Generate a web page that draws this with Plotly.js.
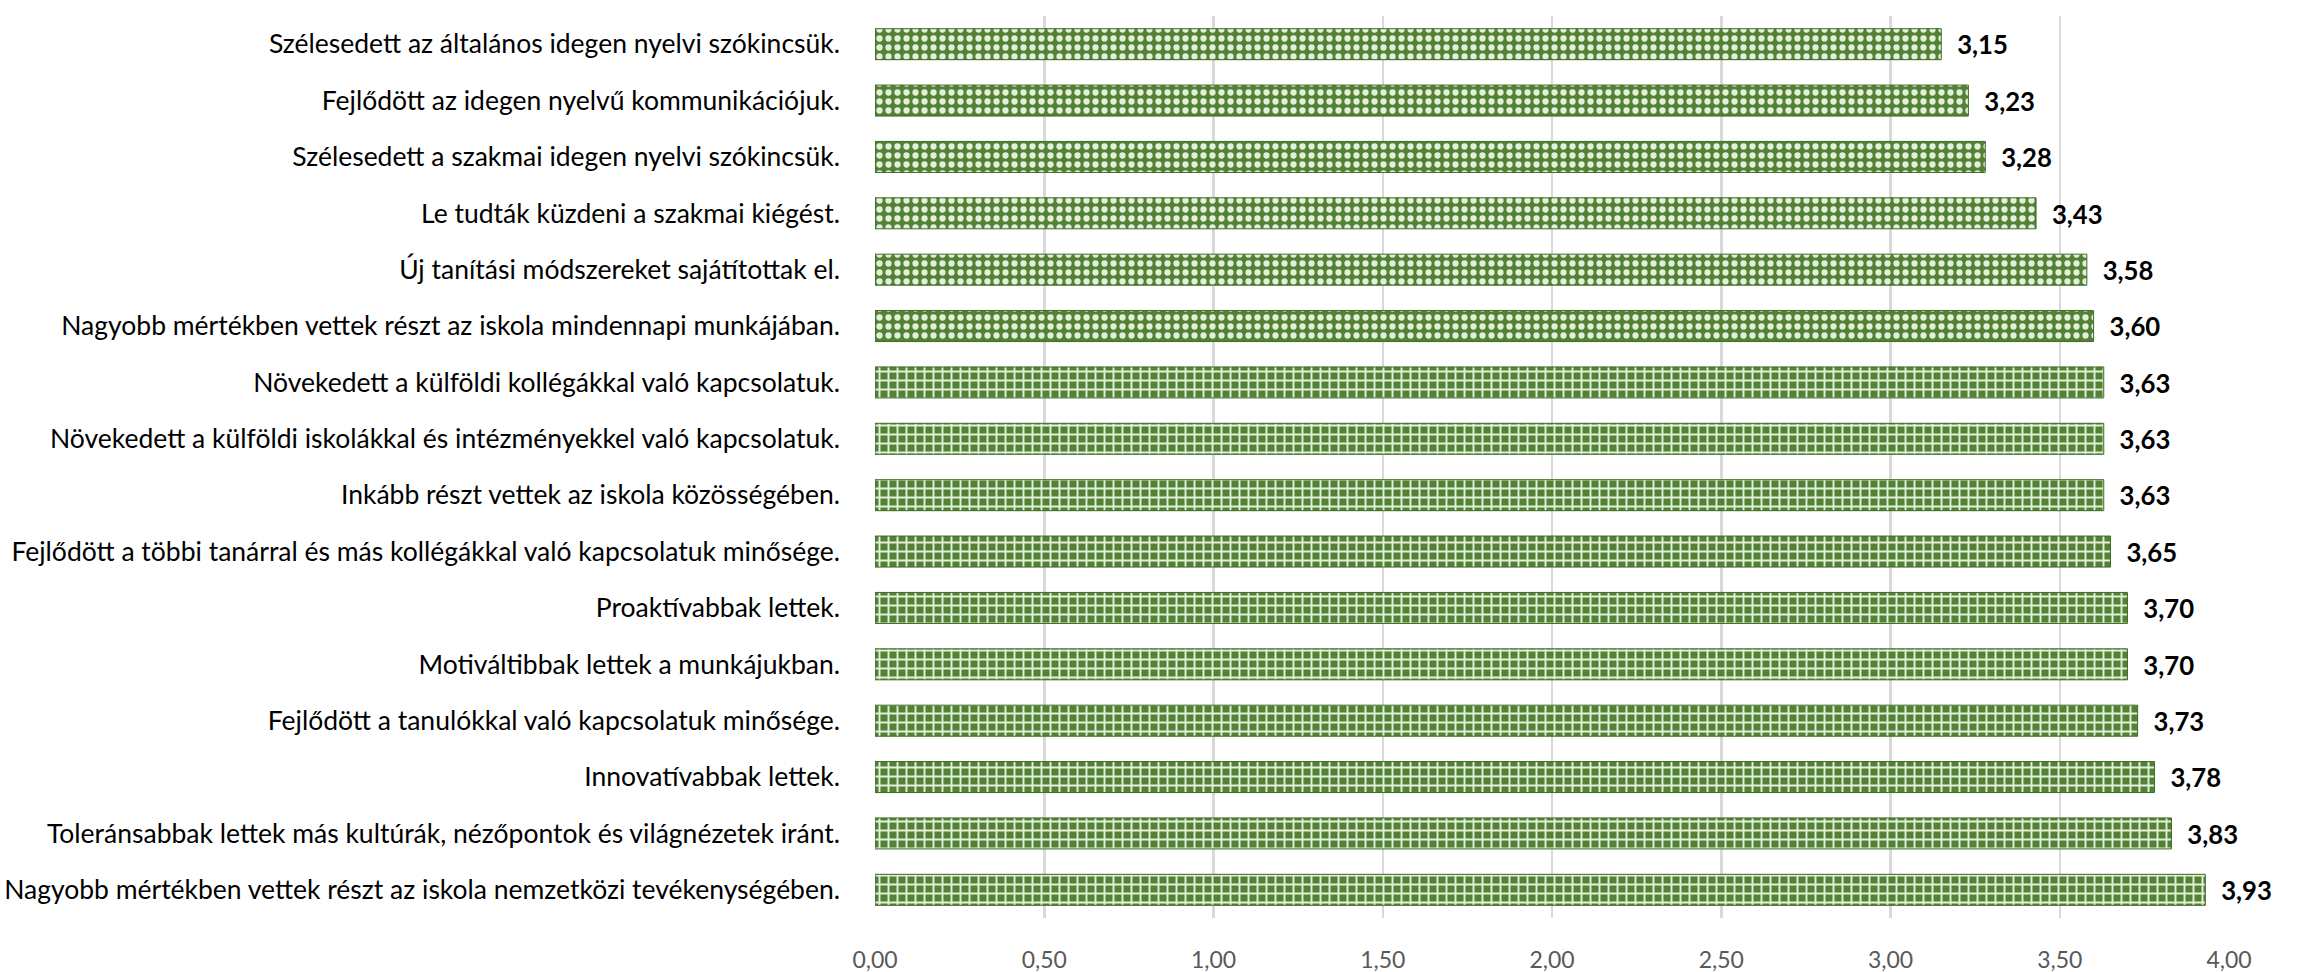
<!DOCTYPE html>
<html>
<head>
<meta charset="utf-8">
<script src="https://cdn.plot.ly/plotly-3.0.1.min.js"></script>
<style>
html,body{margin:0;padding:0;background:#fff;}
#chart{width:2300px;height:972px;}
</style>
</head>
<body>
<div id="chart"></div>
<script>
const categories = [
  "Szélesedett az általános idegen nyelvi szókincsük.",
  "Fejlődött az idegen nyelvű kommunikációjuk.",
  "Szélesedett a szakmai idegen nyelvi szókincsük.",
  "Le tudták küzdeni a szakmai kiégést.",
  "Új tanítási módszereket sajátítottak el.",
  "Nagyobb mértékben vettek részt az iskola mindennapi munkájában.",
  "Növekedett a külföldi kollégákkal való kapcsolatuk.",
  "Növekedett a külföldi iskolákkal és intézményekkel való kapcsolatuk.",
  "Inkább részt vettek az iskola közösségében.",
  "Fejlődött a többi tanárral és más kollégákkal való kapcsolatuk minősége.",
  "Proaktívabbak lettek.",
  "Motiváltibbak lettek a munkájukban.",
  "Fejlődött a tanulókkal való kapcsolatuk minősége.",
  "Innovatívabbak lettek.",
  "Toleránsabbak lettek más kultúrák, nézőpontok és világnézetek iránt.",
  "Nagyobb mértékben vettek részt az iskola nemzetközi tevékenységében."
];
const values = [3.15, 3.23, 3.28, 3.43, 3.58, 3.60, 3.63, 3.63, 3.63, 3.65, 3.70, 3.70, 3.73, 3.78, 3.83, 3.93];
const xTicks = [0, 0.5, 1, 1.5, 2, 2.5, 3, 3.5, 4];

const FONT = "Lato, Carlito, Calibri, 'Liberation Sans', sans-serif";
const patternShapes = categories.map((c, i) => i < 6 ? "." : "+");

const trace = {
  type: "bar",
  orientation: "h",
  x: values,
  y: categories,
  marker: {
    color: "#538135",
    line: {color: "#3d6b25", width: 1},
    pattern: {shape: patternShapes, fgcolor: "#e2f0d9", bgcolor: "#538135", size: 9, solidity: 0.38, fillmode: "replace"}
  },
  texttemplate: "\u2002%{x:.2f}",
  textposition: "outside",
  cliponaxis: false,
  textfont: {family: FONT, size: 34, color: "#000000", weight: "bold"},
  hoverinfo: "none"
};

const layout = {
  width: 2300,
  height: 972,
  margin: {l: 875, r: 71, t: 16, b: 54},
  paper_bgcolor: "#ffffff",
  plot_bgcolor: "#ffffff",
  separators: ", ",
  showlegend: false,
  bargap: 0.45,
  font: {family: FONT, color: "#000000"},
  xaxis: {
    range: [0, 4],
    tickvals: xTicks,
    tickformat: ".2f",
    showgrid: true,
    gridcolor: "#d9d9d9",
    gridwidth: 2.5,
    zeroline: false,
    showline: false,
    ticks: "",
    ticklabelstandoff: 26,
    tickfont: {family: FONT, size: 23, color: "#595959"}
  },
  yaxis: {
    type: "category",
    autorange: "reversed",
    showgrid: false,
    zeroline: false,
    showline: false,
    ticks: "",
    ticklabelstandoff: 34,
    tickfont: {family: FONT, size: 26.5, color: "#000000"}
  }
};

Plotly.newPlot("chart", [trace], layout, {staticPlot: true, displayModeBar: false});
</script>
</body>
</html>
